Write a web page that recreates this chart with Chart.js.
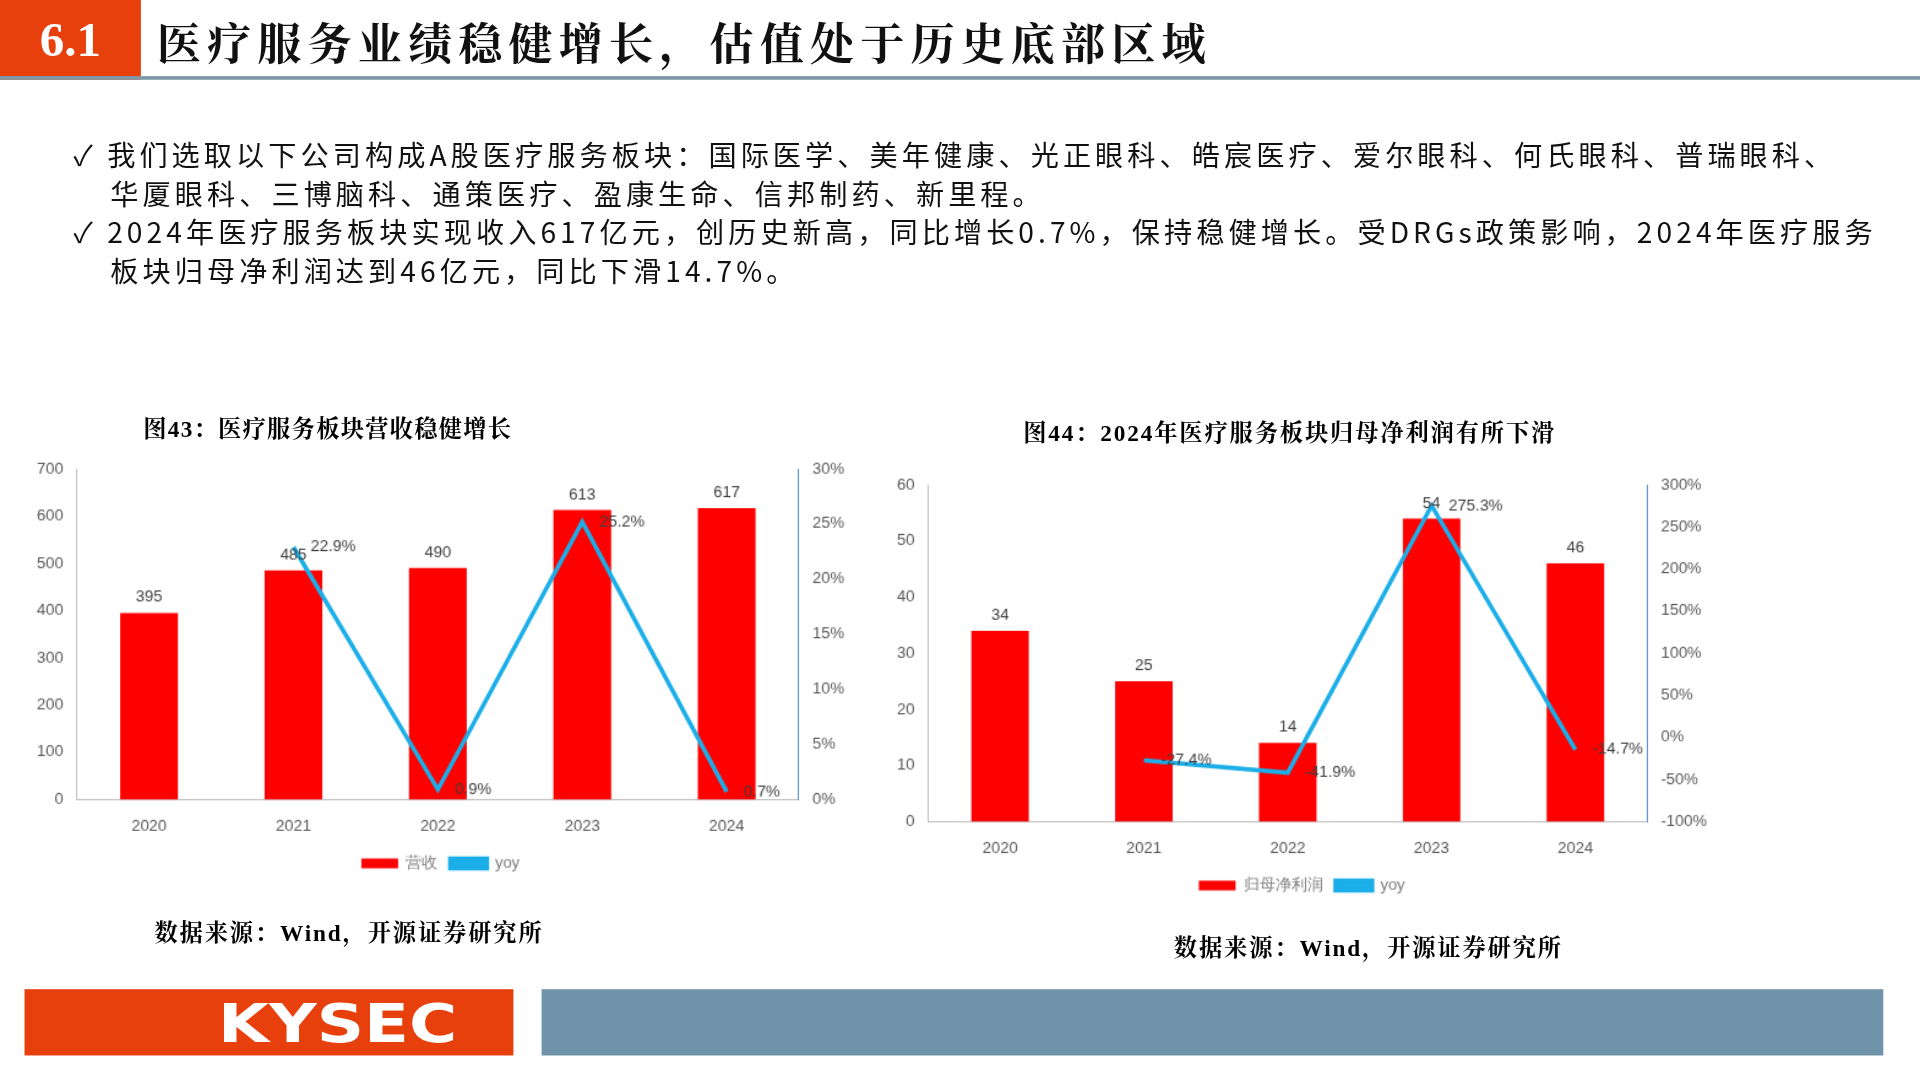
<!DOCTYPE html>
<html><head><meta charset="utf-8">
<script src="https://cdn.jsdelivr.net/npm/chart.js@4/dist/chart.umd.min.js"></script>
<style>
body{margin:0;background:#fff;overflow:hidden}
#page{position:absolute;left:0;top:0;width:1567px;height:880px;transform-origin:0 0;transform:scale(1.2253,1.2273);font-family:"Noto Sans CJK SC",sans-serif}
.abs{position:absolute}
.serif{font-family:"Liberation Serif","Noto Serif CJK SC","Noto Sans CJK SC",serif}
</style></head><body>
<div id="page">
 <div class="abs serif" style="left:0;top:0;width:115px;height:65px;background:#E8400C;color:#fff;font-size:40px;font-weight:bold;line-height:65px;text-align:center">6.1</div>
 <div class="abs" style="left:0;top:62px;width:1567px;height:3px;background:#7F98A8"></div>
 <div class="abs serif" style="left:128px;top:8px;font-size:36px;letter-spacing:5px;font-weight:bold;color:#111">医疗服务业绩稳健增长，估值处于历史底部区域</div>
 <div class="abs" style="left:60px;top:110px;width:1500px;font-size:23px;letter-spacing:3.3px;line-height:31.5px;color:#111;white-space:nowrap">
  <div style="padding-left:30px;text-indent:-30px">✓ 我们选取以下公司构成A股医疗服务板块：国际医学、美年健康、光正眼科、皓宸医疗、爱尔眼科、何氏眼科、普瑞眼科、<br>华厦眼科、三博脑科、通策医疗、盈康生命、信邦制药、新里程。</div>
  <div style="padding-left:30px;text-indent:-30px">✓ 2024年医疗服务板块实现收入617亿元，创历史新高，同比增长0.7%，保持稳健增长。受DRGs政策影响，2024年医疗服务<br>板块归母净利润达到46亿元，同比下滑14.7%。</div>
 </div>
 <div class="abs serif" style="left:117px;top:334px;font-size:19px;letter-spacing:1px;font-weight:bold">图43：医疗服务板块营收稳健增长</div>
 <div class="abs serif" style="left:835px;top:337px;font-size:19px;letter-spacing:1.5px;font-weight:bold">图44：2024年医疗服务板块归母净利润有所下滑</div>
 <div class="abs" style="left:22px;top:370px;width:680px;height:350px"><canvas id="c1"></canvas></div>
 <div class="abs" style="left:724px;top:383px;width:692px;height:355px"><canvas id="c2"></canvas></div>
 <div class="abs serif" style="left:126px;top:745px;font-size:19px;letter-spacing:1.5px;font-weight:bold">数据来源：Wind，开源证券研究所</div>
 <div class="abs serif" style="left:958px;top:757px;font-size:19px;letter-spacing:1.5px;font-weight:bold">数据来源：Wind，开源证券研究所</div>
 <div class="abs" style="left:20px;top:806px;width:399px;height:54px;background:#E8400C"></div>
 <div class="abs" style="left:178px;top:806px;height:54px;color:#fff;font-family:'DejaVu Sans';font-weight:bold;font-size:44px;line-height:56px;white-space:nowrap;transform-origin:0 50%;transform:scaleX(1.22)">KYSEC</div>
 <div class="abs" style="left:442px;top:806px;width:1095px;height:54px;background:#6F93A8"></div>
</div>
<script>
// chart data
const years = ['2020', '2021', '2022', '2023', '2024'];
const revenue = [395, 485, 490, 613, 617];
const revenueYoy = [null, 22.9, 0.9, 25.2, 0.7];
const profit = [34, 25, 14, 54, 46];
const profitYoy = [null, -27.4, -41.9, 275.3, -14.7];

const red = '#FF0000';
const blue = '#1BAEE8';
const axisBlue = '#5B8FD0';

// Draws bar values above bars and yoy labels to the right of points.
const valueLabels = {
    id: 'valueLabels',
    afterDatasetsDraw( chart ) {
        const ctx = chart.ctx;
        ctx.save();
        ctx.font = '13px "Liberation Sans", Arial';
        ctx.fillStyle = '#404040';
        chart.data.datasets.forEach( ( ds, i ) => {
            const meta = chart.getDatasetMeta( i );
            meta.data.forEach( ( el, j ) => {
                const v = ds.data[j];
                if ( v === null ) return;
                if ( ds.type === 'bar' ) {
                    ctx.textAlign = 'center';
                    ctx.textBaseline = 'bottom';
                    ctx.fillText( String( v ), el.x, el.y - 6 );
                } else {
                    ctx.textAlign = 'left';
                    ctx.textBaseline = 'middle';
                    ctx.fillText( v.toFixed( 1 ) + '%', el.x + 14, el.y );
                }
            });
        });
        ctx.restore();
    }
};

function makeChart( id, barLabel, bars, yoy, yMax, yStep, pMin, pMax, pStep, pad ) {
    new Chart( document.getElementById( id ), {
        data: {
            labels: years,
            datasets: [
                { type: 'line', label: 'yoy', data: yoy, yAxisID: 'y2', borderColor: blue, backgroundColor: blue, borderWidth: 3.5, pointRadius: 0, order: 0 },
                { type: 'bar', label: barLabel, data: bars, yAxisID: 'y', backgroundColor: red, barPercentage: 0.4, categoryPercentage: 1, order: 1 }
            ]
        },
        options: {
            responsive: true,
            maintainAspectRatio: false,
            animation: false,
            layout: { padding: pad },
            plugins: {
                legend: {
                    position: 'bottom',
                    reverse: true,
                    labels: { boxWidth: 30, boxHeight: 8, color: '#7f7f7f', font: { size: 13 }, padding: 10 }
                },
                tooltip: { enabled: false }
            },
            scales: {
                x: {
                    grid: { display: false },
                    border: { color: '#bfbfbf' },
                    ticks: { color: '#595959', font: { size: 13, family: 'Liberation Sans' }, padding: 6 }
                },
                y: {
                    min: 0, max: yMax,
                    grid: { display: false, drawTicks: true },
                    border: { color: '#bfbfbf' },
                    ticks: { stepSize: yStep, color: '#595959', font: { size: 13, family: 'Liberation Sans' } }
                },
                y2: {
                    position: 'right',
                    min: pMin, max: pMax,
                    grid: { display: false },
                    border: { color: axisBlue, dash: [2, 2] },
                    ticks: { stepSize: pStep, color: '#595959', font: { size: 13, family: 'Liberation Sans' }, callback: v => v + '%' }
                }
            }
        },
        plugins: [valueLabels]
    });
}

makeChart( 'c1', '营收', revenue, revenueYoy, 700, 100, 0, 30, 5, { left: 5, right: 10, top: 12, bottom: 0 } );
makeChart( 'c2', '归母净利润', profit, profitYoy, 60, 10, -100, 300, 50, { left: 5, right: 20, top: 12, bottom: 0 } );
</script>
</body></html>
